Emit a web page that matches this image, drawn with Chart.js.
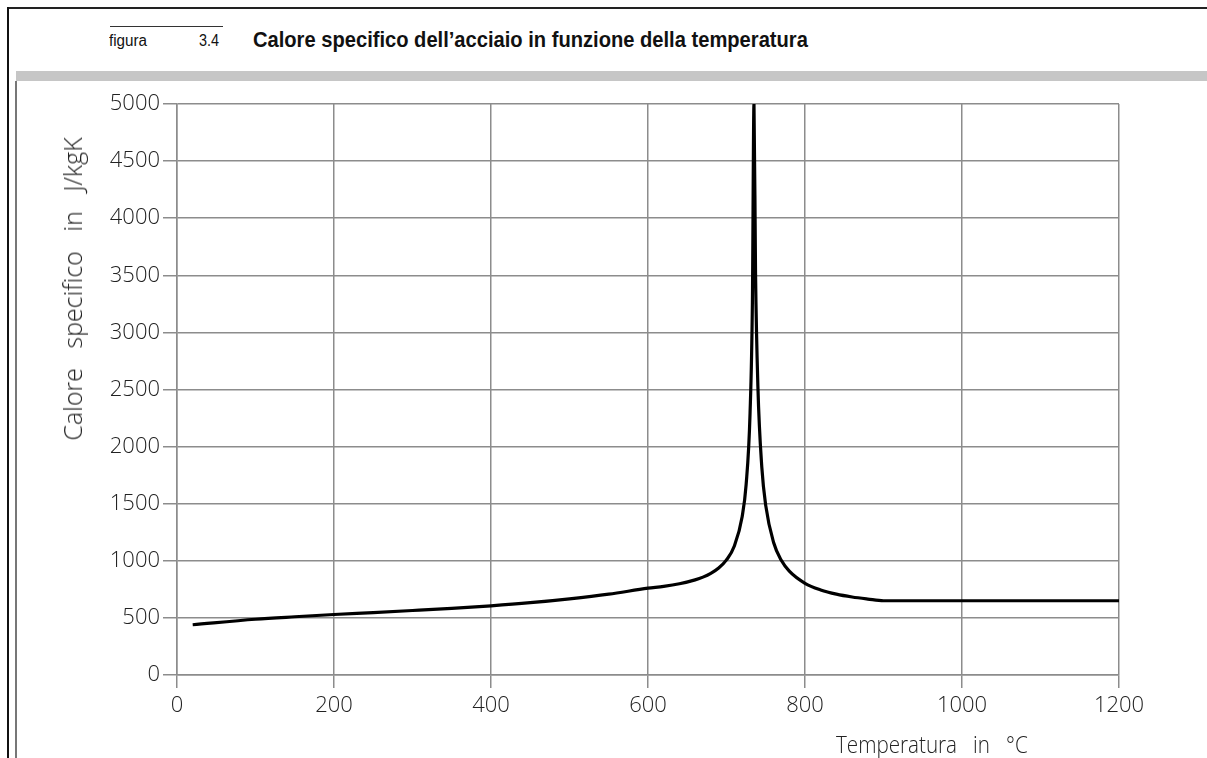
<!DOCTYPE html>
<html>
<head>
<meta charset="utf-8">
<script src="https://cdn.jsdelivr.net/npm/chart.js@4.4.0/dist/chart.umd.min.js"></script>
<style>
  body { margin: 0; width: 1207px; height: 758px; background: #fff; position: relative; overflow: hidden; }
  #chart { position: absolute; left: 0; top: 0; }
  .abs { position: absolute; }
  .sans { font-family: "Liberation Sans", Arial, sans-serif; }
</style>
</head>
<body>
<div class="abs" style="left:7px;top:7px;width:1200px;height:0;border-top:2px solid #222;"></div>
<div class="abs" style="left:7px;top:7px;width:0;height:751px;border-left:2px solid #111;"></div>
<div class="abs" style="left:110px;top:26px;width:113px;height:0;border-top:1px solid #333;"></div>
<div class="abs sans" style="left:109px;top:32px;font-size:16px;color:#111;transform:scaleX(0.95);transform-origin:0 0;">figura</div>
<div class="abs sans" style="left:199px;top:32px;font-size:16px;color:#111;transform:scaleX(0.9);transform-origin:0 0;">3.4</div>
<div class="abs sans" style="left:253px;top:27px;font-size:22px;font-weight:bold;color:#111;white-space:nowrap;transform:scaleX(0.915);transform-origin:0 0;">Calore specifico dell’acciaio in funzione della temperatura</div>
<div class="abs" style="left:16px;top:71px;width:1191px;height:10px;background:#c6c6c6;"></div>
<div class="abs" style="left:15px;top:81px;width:0;height:677px;border-left:2px solid #777;"></div>

<canvas id="chart" width="1207" height="758"></canvas>

<div class="abs" style="left:72px;top:289px;transform:translate(-50%,-50%) rotate(-90deg);white-space:pre;font-family:'Open Sans',sans-serif;font-weight:300;font-size:25px;color:#222;">Calore   specifico   in   J/kgK</div>
<div class="abs" style="left:836px;top:727px;white-space:pre;font-family:'Open Sans',sans-serif;font-weight:300;font-size:24px;color:#222;transform:scaleX(0.86);transform-origin:0 0;">Temperatura   in   °C</div>

<script>
// temperature (°C) and specific heat (J/kgK)
const temps = [20, 100, 150, 200, 250, 300, 350, 400, 450, 500, 550, 600, 620, 640, 660, 670, 680, 690,
  700, 710, 720, 725, 730, 733, 735, 737, 740, 745, 750, 760, 770, 780, 800, 820, 840, 860, 880, 900,
  1000, 1100, 1200];
const heat = [440, 488, 510, 530, 547, 565, 584, 606, 633, 667, 708, 760, 776, 799, 833, 857, 890, 937,
  1008, 1130, 1388, 1666, 2291, 3266, 5000, 3515, 2525, 1818, 1483, 1160, 1002, 909, 803, 745, 708, 683, 665, 650,
  650, 650, 650];

const xTicks = [0, 200, 400, 600, 800, 1000, 1200];
const yTicks = [0, 500, 1000, 1500, 2000, 2500, 3000, 3500, 4000, 4500, 5000];

const points = temps.map((t, i) => ({ x: t, y: heat[i] }));
const gridColor = '#8c8c8c';
const tickFont = { family: '"Open Sans", sans-serif', size: 22, weight: 300 };

const ctx = document.getElementById('chart').getContext('2d');
new Chart(ctx, {
  type: 'line',
  data: {
    datasets: [{
      data: points,
      borderColor: '#000',
      borderWidth: 3.2,
      pointRadius: 0,
      cubicInterpolationMode: 'monotone',
      fill: false
    }]
  },
  options: {
    responsive: false,
    animation: false,
    layout: { padding: { left: 0, top: 104, right: 88, bottom: 0 } },
    plugins: { legend: { display: false }, tooltip: { enabled: false } },
    scales: {
      x: {
        type: 'linear',
        min: xTicks[0],
        max: xTicks[xTicks.length - 1],
        afterFit: scale => { scale.height = 83; },
        afterBuildTicks: scale => { scale.ticks = xTicks.map(v => ({ value: v })); },
        grid: { color: gridColor, lineWidth: 1.5, tickLength: 13 },
        border: { color: gridColor, width: 1.5 },
        ticks: { padding: 5, color: '#222', font: tickFont, callback: v => String(v) }
      },
      y: {
        type: 'linear',
        min: yTicks[0],
        max: yTicks[yTicks.length - 1],
        afterFit: scale => { scale.width = 177; },
        afterBuildTicks: scale => { scale.ticks = yTicks.map(v => ({ value: v })); },
        grid: { color: gridColor, lineWidth: 1.5, tickLength: 14 },
        border: { color: gridColor, width: 1.5 },
        ticks: { padding: 3, color: '#222', font: tickFont, callback: v => String(v) }
      }
    }
  }
});
</script>
</body>
</html>
